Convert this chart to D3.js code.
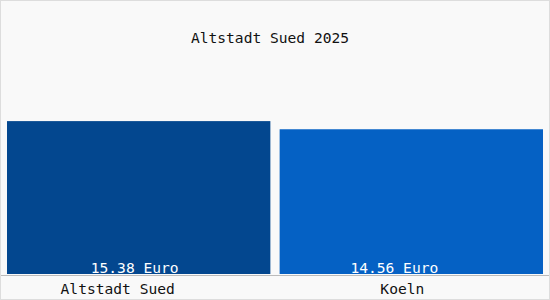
<!DOCTYPE html>
<html>
<head>
<meta charset="utf-8">
<script src="https://cdn.jsdelivr.net/npm/d3@7"></script>
<style>
  body { margin: 0; background: #ffffff; }
  text { font-family: "DejaVu Sans Mono", monospace; font-size: 14.6px; }
</style>
</head>
<body>
<script>
// Werte aus dem Bild
var categories = ["Altstadt Sued", "Koeln"];
var prices = [15.38, 14.56];
var valueLabels = ["15.38 Euro", "14.56 Euro"];
var colors = ["#03478f", "#0561c4"];
var title = "Altstadt Sued 2025";

var width = 550, height = 300;

var svg = d3.select("body").append("svg").attr("width", width).attr("height", height);

// Hintergrund und Rahmen
svg.append("rect").attr("x", 0.5).attr("y", 0.5).attr("width", width - 1).attr("height", height - 1)
    .attr("fill", "#f9f9f9").attr("stroke", "#dddddd");

var x = d3.scaleBand().domain(categories).range([7, 543]).paddingInner(0.034);
var y = d3.scaleLinear().domain([0, 16.9]).range([274, 106]);

svg.append("text").attr("x", 270).attr("y", 43).attr("text-anchor", "middle")
    .attr("fill", "#111").text(title);

var data = categories.map(function (c, i) {
    return { name: c, value: prices[i], label: valueLabels[i], color: colors[i] };
});

// Balken
svg.append("g").selectAll("rect").data(data).enter()
    .append("rect")
    .attr("x", function (d) { return x(d.name); })
    .attr("y", function (d) { return y(d.value); })
    .attr("width", x.bandwidth())
    .attr("height", function (d) { return y(0) - y(d.value); })
    .attr("fill", function (d) { return d.color; });

// Grundlinie
svg.append("line").attr("x1", 1).attr("x2", width - 1)
    .attr("y1", 275.5).attr("y2", 275.5).attr("stroke", "#bbbbbb");

// Werte in den Balken (leicht nach links versetzt wie im Original)
var valShift = [-4, -17];
svg.append("g").selectAll("text").data(data).enter()
    .append("text").attr("text-anchor", "middle")
    .attr("x", function (d, i) { return x(d.name) + x.bandwidth() / 2 + valShift[i]; })
    .attr("y", 273)
    .attr("fill", "#ffffff")
    .text(function (d) { return d.label; });

// Kategorien unter der Achse
var catShift = [-21, -9];
svg.append("g").selectAll("text").data(data).enter()
    .append("text").attr("text-anchor", "middle")
    .attr("x", function (d, i) { return x(d.name) + x.bandwidth() / 2 + catShift[i]; })
    .attr("y", 294)
    .attr("fill", "#111")
    .text(function (d) { return d.name; });
</script>
</body>
</html>
